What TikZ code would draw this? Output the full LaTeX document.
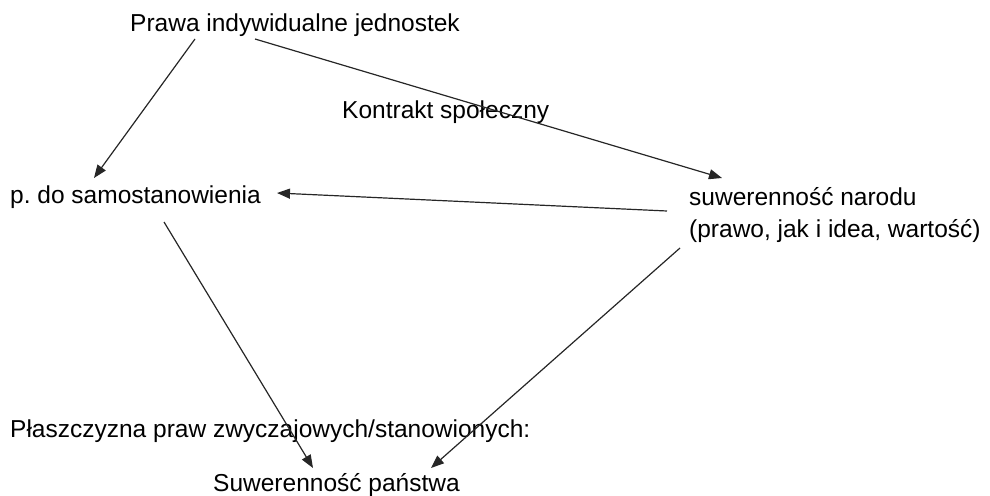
\documentclass[tikz,border=0pt]{standalone}
\usepackage{fontspec}
\setmainfont{Liberation Sans}
\usetikzlibrary{arrows.meta,calc}
\frenchspacing
\tikzset{
  lbl/.style={inner sep=0pt, anchor=base west, font=\fontsize{24.5}{32}\selectfont, align=left},
  conn/.style={line width=1.2pt, draw=black!85, -{Triangle[length=13pt,width=10pt]}}
}
\begin{document}
\begin{tikzpicture}[x=1pt,y=-1pt]
\useasboundingbox (0,0) rectangle (990,495);
\node[lbl] (prawa) at (130,32) {Prawa indywidualne jednostek};
\node[lbl] (kontrakt) at (342,118) {Kontrakt społeczny};
\node[lbl] (samo) at (10,203) {p.\ do samostanowienia};
\node[lbl] (narod) at (689,237) {suwerenność narodu\\(prawo, jak i idea, wartość)};
\node[lbl] (plasz) at (10,437) {Płaszczyzna praw zwyczajowych/stanowionych:};
\node[lbl] (panstwa) at (213,491) {Suwerenność państwa};
\draw[conn] ([shift={(65,7)}]prawa.base west) -- ([shift={(84,-25)}]samo.base west);
\draw[conn] ([shift={(125,7)}]prawa.base west) -- ([shift={(33,-59)}]narod.base west);
\draw[conn] ([shift={(-22,-26)}]narod.base west) -- ([shift={(267,-10)}]samo.base west);
\draw[conn] ([shift={(154,19)}]samo.base west) -- ([shift={(100,-23)}]panstwa.base west);
\draw[conn] ([shift={(-9,11)}]narod.base west) -- ([shift={(218,-23)}]panstwa.base west);
\end{tikzpicture}
\end{document}
